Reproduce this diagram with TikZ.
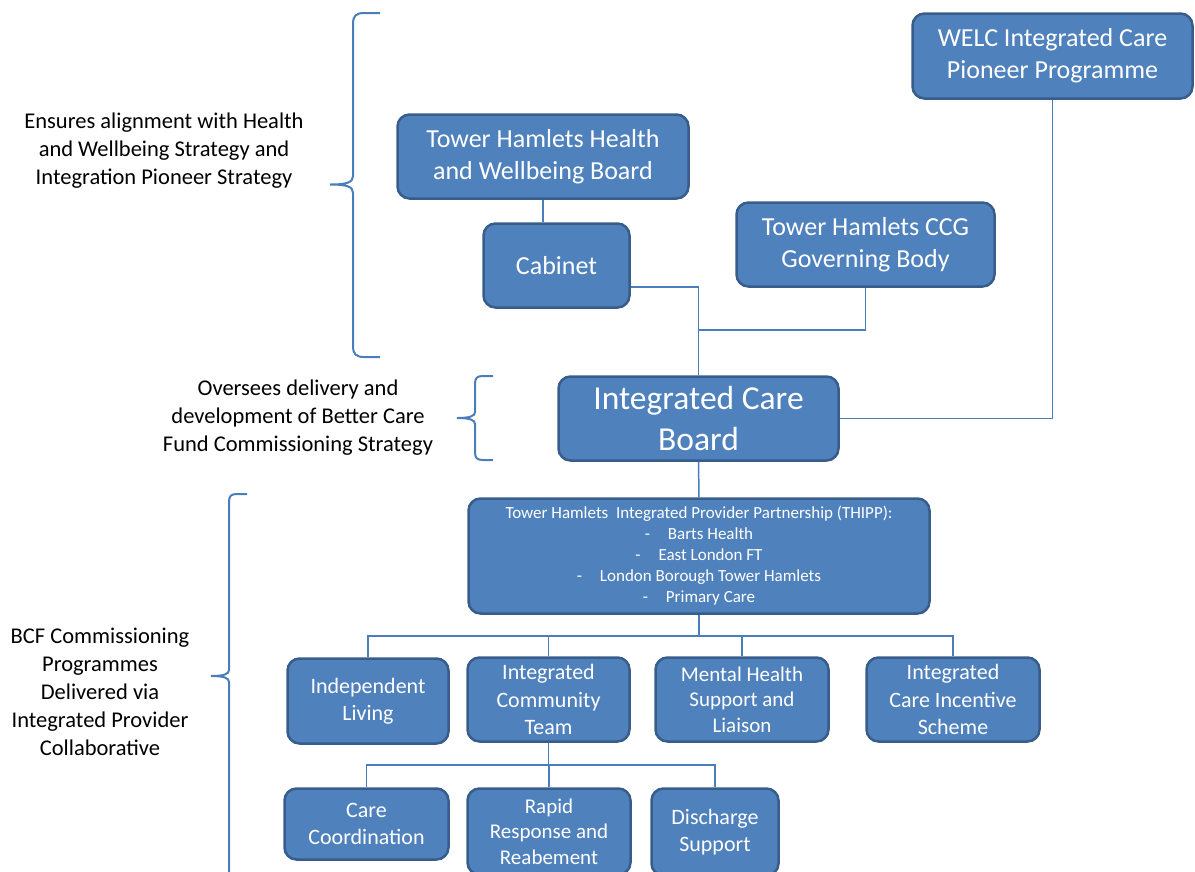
\documentclass[tikz,border=0pt]{standalone}
\usepackage{fontspec}
\setmainfont{Carlito}
\usetikzlibrary{calc}
\definecolor{boxfill}{RGB}{79,129,189}
\definecolor{boxline}{RGB}{56,93,138}
\definecolor{connc}{RGB}{74,126,187}
\tikzset{
  box/.style={draw=boxline, fill=boxfill, line width=2.5pt, rounded corners=12pt, text=white, align=center, inner sep=0pt},
  fbig/.style={font=\fontsize{26}{32}\selectfont},
  fhuge/.style={font=\fontsize{33.5}{41}\selectfont},
  fmid/.style={font=\fontsize{22}{27.5}\selectfont},
  fsmall/.style={font=\fontsize{21}{25.5}\selectfont},
  fthipp/.style={font=\fontsize{17}{21}\selectfont},
  conn/.style={draw=connc, line width=1.5pt},
  bracepath/.style={draw=connc, line width=2pt},
  lab/.style={align=center, text=black, inner sep=0pt, font=\fontsize{22.5}{28}\selectfont}
}
\begin{document}
\begin{tikzpicture}[x=1pt,y=-1pt]
\useasboundingbox (0,0) rectangle (1195,871);

% boxes
\node[box,fbig,minimum width=280pt,minimum height=85pt] (welc) at (1052.5,56) {WELC Integrated Care\\Pioneer Programme};
\node[box,fbig,minimum width=291pt,minimum height=84pt] (hwb) at (543,156.5) {Tower Hamlets Health\\and Wellbeing Board};
\node[box,fbig,minimum width=146pt,minimum height=84pt] (cab) at (556.5,265.5) {Cabinet};
\node[box,fbig,minimum width=258pt,minimum height=84pt] (ccg) at (865.5,244.5) {Tower Hamlets CCG\\Governing Body};
\node[box,fhuge,minimum width=280pt,minimum height=84pt] (icb) at (698.5,418.5) {Integrated Care\\Board};
\node[box,fthipp,minimum width=461pt,minimum height=115pt] (thipp) at (699,556) {Tower Hamlets\ \ Integrated Provider Partnership (THIPP):\\
-\hspace{1.05em}Barts Health\\
-\hspace{1.05em}East London FT\\
-\hspace{1.05em}London Borough Tower Hamlets\\
-\hspace{1.05em}Primary Care};
\node[box,fmid,minimum width=161pt,minimum height=85pt] (il) at (368,701) {Independent\\Living};
\node[box,fmid,minimum width=162pt,minimum height=84pt] (ict) at (548.5,699.5) {Integrated\\Community\\Team};
\node[box,fsmall,minimum width=173pt,minimum height=84pt] (mh) at (742,699.5) {Mental Health\\Support and\\Liaison};
\node[box,fmid,minimum width=173pt,minimum height=84pt] (icis) at (953,699.5) {Integrated\\Care Incentive\\Scheme};
\node[box,fmid,minimum width=164pt,minimum height=71pt] (cc) at (366.5,824) {Care\\Coordination};
\node[box,fsmall,minimum width=163pt,minimum height=86pt] (rr) at (549,831.5) {Rapid\\Response and\\Reabement};
\node[box,fmid,minimum width=127pt,minimum height=87pt] (ds) at (715,832) {Discharge\\Support};

% labels
\node[lab] (l1) at (164,151) {Ensures alignment with Health\\and Wellbeing Strategy and\\Integration Pioneer Strategy};
\node[lab] (l2) at (298,417.5) {Oversees delivery and\\development of Better Care\\Fund Commissioning Strategy};
\node[lab] (l3) at (100,692) {BCF Commissioning\\Programmes\\Delivered via\\Integrated Provider\\Collaborative};

% connectors
\draw[conn] (hwb.south) -- (hwb.south |- cab.north);
\draw[conn] ($(cab.east)+(0,21.5)$) -| (icb.north);
\draw[conn] (ccg.south) -- ++(0,42) -| (icb.north);
\draw[conn] (welc.south) |- (icb.east);
\draw[conn] (icb.south) -- (thipp.north);
\coordinate (tb) at ($(thipp.south)+(0,21)$);
\draw[conn] (thipp.south) -- (tb);
\draw[conn] (tb) -| (il.north);
\draw[conn] (tb) -| (ict.north);
\draw[conn] (tb) -| (mh.north);
\draw[conn] (tb) -| (icis.north);
\coordinate (cb) at ($(ict.south)+(0,22)$);
\draw[conn] (ict.south) -- (cb);
\draw[conn] (cb) -| (cc.north);
\draw[conn] (cb) -| (rr.north);
\draw[conn] (cb) -| (ds.north);

% braces
\draw[bracepath] (380,13) -- (364,13) .. controls (356,13) and (353,16) .. (353,24) -- (353,176)
  .. controls (353,182) and (348,184.5) .. (330,184.5) .. controls (348,184.5) and (353,187) .. (353,193)
  -- (353,346) .. controls (353,354) and (356,357) .. (364,357) -- (380,357);
\draw[bracepath] (493,376) -- (483,376) .. controls (477,376) and (475,378) .. (475,384) -- (475,412)
  .. controls (475,416) and (470,418) .. (457,418) .. controls (470,418) and (475,420) .. (475,424)
  -- (475,452) .. controls (475,458) and (477,460) .. (483,460) -- (493,460);
\draw[bracepath] (247,494) -- (237,494) .. controls (231,494) and (229,496) .. (229,502) -- (229,670)
  .. controls (229,674) and (224,676) .. (211,676) .. controls (224,676) and (229,678) .. (229,682)
  -- (229,880);
\end{tikzpicture}
\end{document}
